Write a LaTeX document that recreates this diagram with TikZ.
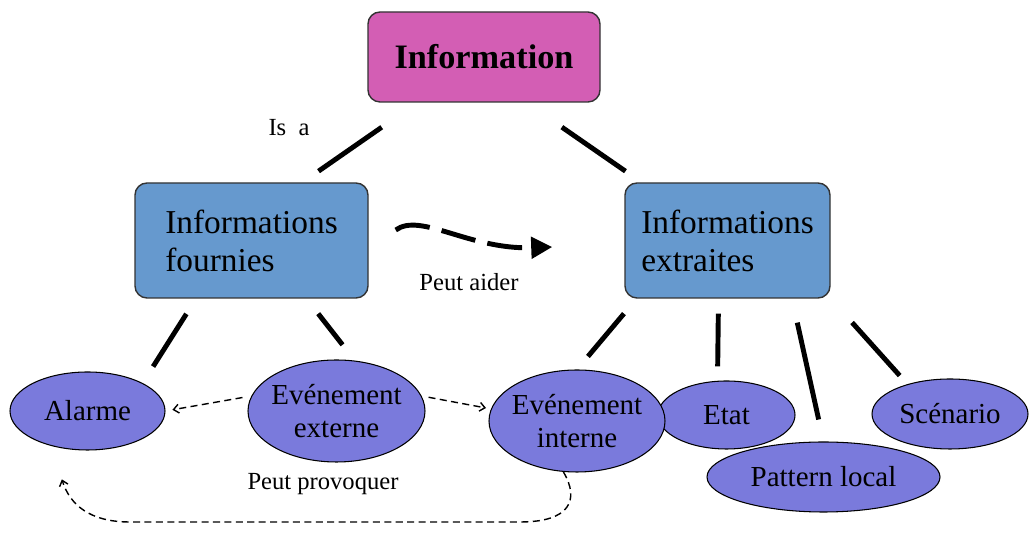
\documentclass[tikz,border=0pt]{standalone}
\usepackage{fontspec}
\setmainfont{Liberation Serif}
\usetikzlibrary{shapes.geometric,arrows.meta}
\definecolor{topcol}{RGB}{211,94,180}
\definecolor{boxcol}{RGB}{102,153,206}
\definecolor{leafcol}{RGB}{122,122,220}
\tikzset{
    topbox/.style={draw=black!80,line width=0.8pt,fill=topcol,rounded corners=0.24cm,minimum width=4.64cm,minimum height=1.8cm,font=\fontsize{19.5}{22}\selectfont\bfseries},
    infobox/.style={draw=black!80,line width=0.8pt,fill=boxcol,rounded corners=0.24cm,minimum height=2.3cm,align=left,font=\fontsize{19}{21.6}\selectfont},
    leaf/.style={ellipse,draw=black,line width=0.6pt,fill=leafcol,inner xsep=-3pt,inner ysep=0pt,align=center,font=\fontsize{16.5}{19}\selectfont},
    link/.style={line width=2.8pt},
    hint/.style={line width=0.8pt,dash pattern=on 4pt off 2.5pt,-{Straight Barb[length=3pt,width=5pt]}},
    lbl/.style={font=\fontsize{14}{16}\selectfont}
}
\begin{document}
\begin{tikzpicture}
            \useasboundingbox (0,0) rectangle (20.58,10.72);

            \node[topbox] (info) at (9.68,9.58) {Information};
            \node[infobox,minimum width=4.66cm] (fournies) at (5.03,5.91) {Informations\\fournies};
            \node[infobox,minimum width=4.1cm] (extraites) at (14.55,5.91) {Informations\\extraites};

            \node[leaf,minimum width=3.1cm,minimum height=1.56cm] (alarme) at (1.75,2.5) {Alarme};
            \node[leaf,minimum width=3.54cm,minimum height=2.04cm] (externe) at (6.73,2.5) {Evénement\\externe};
            \node[leaf,minimum width=2.74cm,minimum height=1.36cm] (etat) at (14.53,2.42) {Etat};
            \node[leaf,minimum width=4.66cm,minimum height=1.4cm] (pattern) at (16.47,1.18) {Pattern local};
            \node[leaf,minimum width=3.52cm,minimum height=2.04cm] (interne) at (11.54,2.3) {Evénement\\interne};
            \node[leaf,minimum width=3.12cm,minimum height=1.4cm] (scenario) at (19.0,2.44) {Scénario};

            \node[lbl] (isa) at (5.78,8.16) {Is~~a};
            \node[lbl] (aider) at (9.38,5.08) {Peut aider};
            \node[lbl] (provoquer) at (6.46,1.04) {Peut provoquer};

            % is-a links
            \draw [link,shorten <=0.86cm,shorten >=0.39cm] ([xshift=-1.34cm]info.south) -- ([xshift=1.02cm]fournies.north);
            \draw [link,shorten <=0.86cm,shorten >=0.39cm] ([xshift=0.85cm]info.south) -- ([xshift=-1.72cm]extraites.north);
            \draw [link,shorten <=0.36cm,shorten >=0.39cm] ([xshift=-1.11cm]fournies.south) -- (alarme.north east);
            \draw [link,shorten <=0.38cm,shorten >=0.4cm] ([xshift=1.1cm]fournies.south) -- (externe.70);
            \draw [link,shorten <=0.39cm,shorten >=0.34cm] ([xshift=-1.82cm]extraites.south) -- (interne.north);
            \draw [link,shorten <=0.3cm,shorten >=0.28cm] ([xshift=-0.18cm]extraites.south) -- ([xshift=-0.18cm]etat.north);
            \draw [link,shorten <=0.49cm,shorten >=0.45cm] ([xshift=1.29cm]extraites.south) -- (pattern.north);
            \draw [link,shorten <=0.64cm,shorten >=0.23cm] (extraites.south east) -- (scenario.145);

            \draw [line width=2.8pt,dash pattern=on 20pt off 7pt,-{Triangle[length=12pt,width=12pt]}] ([xshift=0.54cm,yshift=0.21cm]fournies.east) .. controls +(0.5,0.36) and +(-1.66,-0.06) .. ([xshift=-1.44cm,yshift=-0.13cm]extraites.west);

            % peut provoquer
            \draw [hint,shorten <=0.18cm,shorten >=0.14cm] (externe.170) -- (alarme.east);
            \draw [hint,shorten <=0.14cm,shorten >=0.1cm] (externe.10) -- (interne.172);
            \draw [hint,shorten >=0.7cm] (interne.255) .. controls (11.6,0.72) and (11.4,0.28) .. (10.4,0.28) -- (2.6,0.28) .. controls (1.8,0.28) and (1.4,0.62) .. (alarme.224);
        \end{tikzpicture}
\end{document}
